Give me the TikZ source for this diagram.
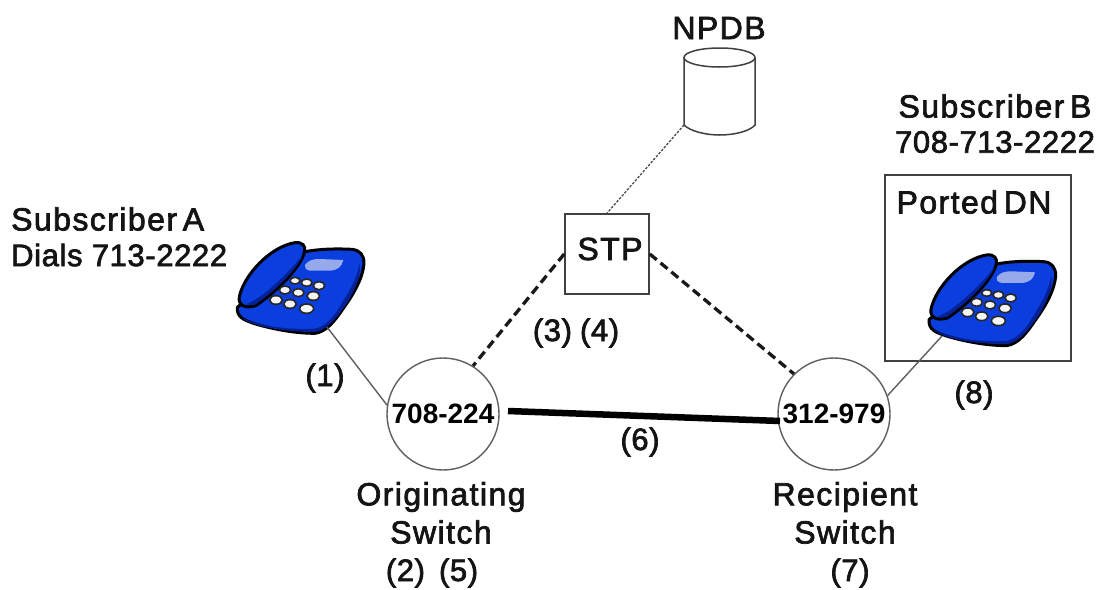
\documentclass[tikz,border=0pt]{standalone}
\usepackage{fontspec}
\setmainfont{Liberation Sans}
\newfontfamily\wordfont[LetterSpace=4.5,FakeBold=2.2,WordSpace=0.55]{Liberation Sans}
\newfontfamily\numfont[LetterSpace=2,FakeBold=2.2,WordSpace=1.0]{Liberation Sans}
\definecolor{phblue}{RGB}{10,62,222}
\definecolor{phdark}{RGB}{6,32,150}
\definecolor{phscreen}{RGB}{150,170,235}
\definecolor{linegray}{RGB}{95,95,95}
\tikzset{
 wordlab/.style={font=\wordfont\fontsize{32}{36}\selectfont,inner sep=0pt,text=black!92},
 numlab/.style={font=\numfont\fontsize{31}{36}\selectfont,inner sep=0pt,text=black!92},
 sw/.style={circle,draw=linegray,line width=1.4pt,minimum size=112pt,inner sep=0pt,font=\fontsize{28}{30}\bfseries\selectfont},
 box/.style={draw=black!75,line width=1.6pt,fill=white,inner sep=0pt},
 thin link/.style={draw=linegray,line width=1.4pt},
 dash link/.style={draw=black!90,line width=3.3pt,dash pattern=on 9pt off 5pt},
 dot link/.style={draw=black!70,line width=1.3pt,dash pattern=on 2.5pt off 1.5pt},
 key/.style={fill=white!92!gray,draw=black!85,line width=1.6pt},
}
\newcommand{\phone}[2]{%
\begin{scope}[shift={(#1,#2)},x=0.3333pt,y=-0.3333pt]
 \fill[white] (30,15) rectangle (450,335);
 \draw[fill=phblue,draw=black,line width=3pt,line join=round]
  (52,232) .. controls (50,262) and (70,270) .. (110,283)
  .. controls (170,300) and (230,310) .. (285,310)
  .. controls (320,305) and (345,272) .. (370,235)
  .. controls (395,200) and (428,150) .. (432,100)
  .. controls (432,75) and (420,60) .. (395,58)
  .. controls (340,55) and (290,58) .. (250,66)
  .. controls (180,120) and (100,190) .. (52,232) -- cycle;
 \fill[phdark] (285,296) .. controls (315,290) and (340,262) .. (358,232)
  .. controls (380,195) and (412,150) .. (418,100)
  .. controls (428,130) and (400,195) .. (370,235)
  .. controls (345,270) and (320,300) .. (285,306) -- cycle;
 \fill[phdark] (62,262) .. controls (120,288) and (200,300) .. (285,296) -- (285,306) .. controls (180,304) and (100,290) .. (62,262) -- cycle;
 \draw[fill=phblue,draw=black,line width=3pt]
  (58,200) .. controls (72,135) and (150,50) .. (225,38)
  .. controls (247,35) and (258,48) .. (254,65)
  .. controls (242,112) and (172,184) .. (107,227)
  .. controls (75,237) and (53,225) .. (58,200) -- cycle;
 \fill[phdark] (78,222) .. controls (120,212) and (210,125) .. (248,75)
  .. controls (236,112) and (170,180) .. (105,224)
  .. controls (95,227) and (85,226) .. (78,222) -- cycle;
 \fill[phscreen] (255,105) .. controls (265,90) and (280,87) .. (300,87)
  -- (370,90) .. controls (365,110) and (355,120) .. (330,122)
  -- (270,122) .. controls (258,120) and (252,112) .. (255,105) -- cycle;
 \foreach \kx/\ky/\ka/\kb in {225/152/15/10,260/158/16/11,297/167/17/12,195/180/17/12,235/188/17/12,280/198/19/13,168/210/19/13,210/222/19/13,260/236/21/14}
  \draw[key] (\kx,\ky) ellipse ({\ka} and {\kb});
\end{scope}}
\begin{document}
\begin{tikzpicture}[x=1pt,y=-1pt]
\useasboundingbox (0,0) rectangle (1099,589);
\fill[white] (0,0) rectangle (1099,589);
% ported box
\node[box,minimum width=186pt,minimum height=186pt,anchor=north west] (ported) at (884,174) {};
% phones
\phone{220}{230}
\phone{911.7}{242.3}
\coordinate (phA) at (327,327);
\coordinate (phB) at (942,336);
% switches
\node[sw] (orig) at (443,414) {708-224};
\node[sw] (recip) at (834,414) {312-979};
% STP
\node[box,minimum width=84pt,minimum height=80pt] (stp) at (607,254) {};
\node[wordlab] (stpt) at (610,249) {STP};
% NPDB cylinder
\coordinate (dbfoot) at (684,125);
\draw[draw=black!75,line width=1.5pt,fill=white]
 (684,58) -- (684,125) .. controls (690,131) and (705,135) .. (719.5,135) .. controls (735,135) and (750,131) .. (755,125) -- (755,58);
\draw[draw=black!75,line width=1.5pt,fill=white] (719.5,57.5) ellipse (35.5 and 9.5);
% connectors
\coordinate (thickA) at (508,411);
\coordinate (thickB) at (780,421);
\draw[thin link] (phA) -- (orig.171);
\draw[thin link] (phB) -- (recip.19);
\draw[draw=black,line width=6.5pt] (thickA) -- (thickB);
\draw[dash link] (stp.west) -- (orig.58);
\draw[dash link] (stp.east) -- (recip.135);
\draw[dot link] (dbfoot) -- (stp.north);
% labels
\node[wordlab] (npdb) at (719,28) {NPDB};
\node[wordlab] (subb) at (995,106) {Subscriber B};
\node[numlab] (numb) at (995,142) {708-713-2222};
\node[wordlab] (pdn) at (974,202) {Ported DN};
\node[wordlab,anchor=west] (suba) at (11,219) {Subscriber A};
\node[numlab,anchor=west] (numa) at (11,255) {Dials 713-2222};
\node[numlab] (l34) at (576,333) {(3)\hspace{8pt}(4)};
\node[numlab] (l1) at (325,378) {(1)};
\node[numlab] (l6) at (640,442) {(6)};
\node[numlab] (l8) at (974,395) {(8)};
\node[wordlab] (ow) at (441,497) {Originating};
\node[wordlab] (os) at (441,532) {Switch};
\node[numlab] (l25) at (432,573) {(2)\hspace{14pt}(5)};
\node[wordlab] (rw) at (845,497) {Recipient};
\node[wordlab] (rs) at (845,532) {Switch};
\node[numlab] (l7) at (850,573) {(7)};
\end{tikzpicture}
\end{document}
